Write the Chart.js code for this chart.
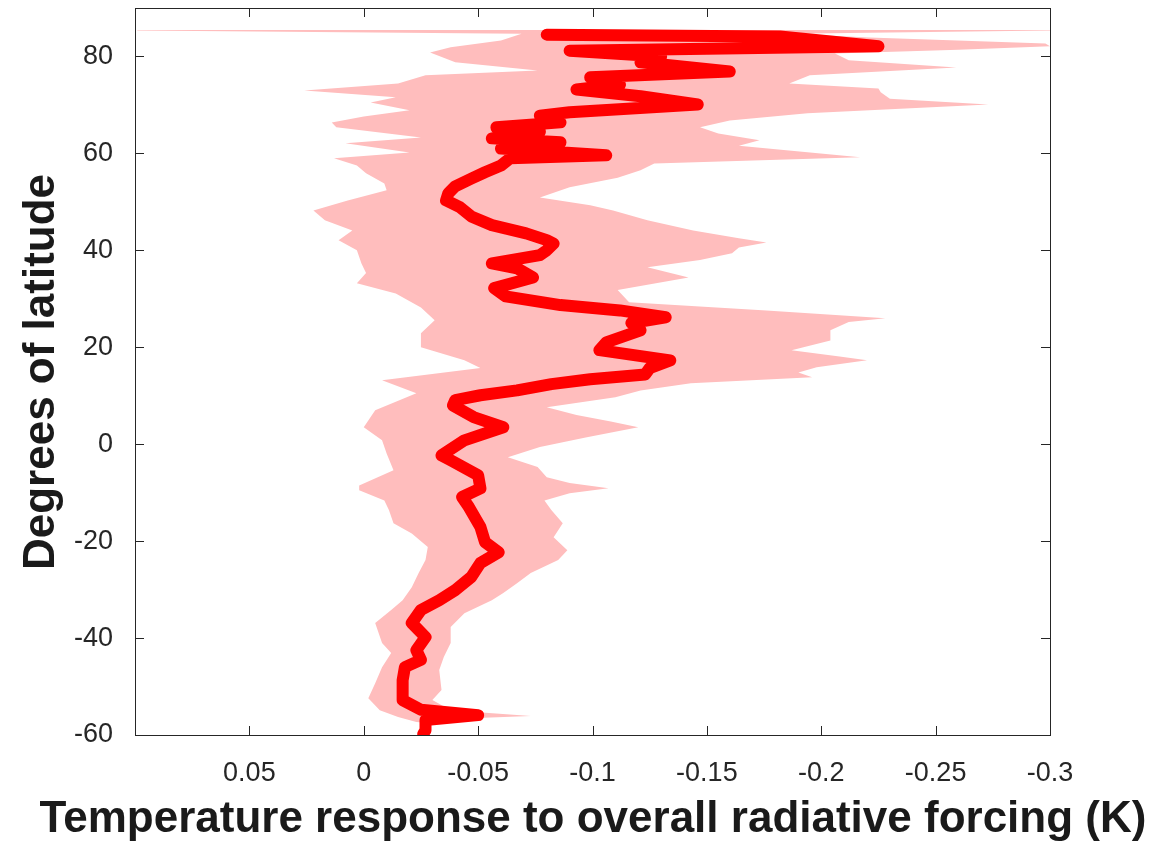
<!DOCTYPE html>
<html>
<head>
<meta charset="utf-8">
<script src="https://cdn.jsdelivr.net/npm/chart.js@4/dist/chart.umd.min.js"></script>
<style>
    html, body { margin: 0; padding: 0; background: #fff; }
    #wrap { width: 1171px; height: 849px; }
</style>
</head>
<body>
<div id="wrap"><canvas id="latChart" width="1171" height="849"></canvas></div>
<script>
// Mean temperature response by latitude (K)
const meanLat = [
    84.5, 84.1, 82.1, 81.2, 80.0, 78.8, 76.9, 75.7, 74.2, 73.2, 71.8, 70.1, 68.5, 67.8,
    66.4, 65.4, 64.5, 63.1, 62.3, 61.0, 59.6, 59.0, 57.5, 56.1, 54.8, 53.2, 51.8, 50.3,
    48.9, 47.0, 45.2, 43.5, 42.1, 41.4, 40.0, 39.0, 37.3, 36.3, 34.4, 32.2, 30.5, 28.7,
    27.6, 26.2, 25.0, 23.5, 21.0, 19.4, 17.3, 15.7, 14.4, 13.4, 12.4, 11.1, 10.1, 9.1,
    8.0, 5.6, 3.5, 0.8, -2.3, -3.3, -6.4, -9.1, -10.9, -13.0, -17.1, -20.2, -22.3, -24.5,
    -27.4, -30.1, -32.2, -34.2, -36.9, -39.8, -42.5, -44.5, -46.0, -48.7, -50.7, -52.8,
    -54.8, -55.9, -56.9, -59.0, -59.8
];
const meanVal = [
    -0.080, -0.182, -0.225, -0.090, -0.130, -0.121, -0.160, -0.099, -0.112, -0.093, -0.121, -0.146, -0.090, -0.077,
    -0.086, -0.058, -0.077, -0.056, -0.086, -0.060, -0.106, -0.064, -0.060, -0.053, -0.047, -0.040, -0.037, -0.036,
    -0.042, -0.047, -0.056, -0.071, -0.080, -0.083, -0.080, -0.077, -0.056, -0.067, -0.074, -0.057, -0.062, -0.086,
    -0.112, -0.132, -0.117, -0.121, -0.106, -0.103, -0.134, -0.125, -0.123, -0.099, -0.082, -0.067, -0.051, -0.040,
    -0.039, -0.048, -0.061, -0.044, -0.034, -0.038, -0.050, -0.051, -0.043, -0.046, -0.051, -0.053, -0.059, -0.051,
    -0.047, -0.040, -0.033, -0.025, -0.021, -0.027, -0.023, -0.025, -0.018, -0.017, -0.017, -0.017,
    -0.025, -0.050, -0.027, -0.027, -0.026
];

// Spread band, warm (left) edge
const bandLeftLat = [
    85.45, 85.35, 84.7, 83.3, 81.9, 80.8, 78.8, 77.1, 76.1, 74.4, 73.0, 71.6, 70.5, 68.9,
    67.6, 66.4, 65.4, 63.3, 62.1, 60.2, 59.0, 57.5, 55.9, 53.8, 52.4, 50.3, 48.2, 46.2,
    44.1, 42.1, 40.0, 37.3, 35.3, 33.2, 31.1, 28.2, 25.6, 22.9, 20.0, 17.3, 15.7, 13.2,
    10.5, 7.0, 3.5, 0.8, -1.9, -5.4, -8.5, -9.5, -11.6, -13.6, -16.3, -18.4, -21.2, -23.9,
    -26.6, -29.5, -32.2, -34.2, -36.9, -41.0, -43.1, -46.0, -49.3, -52.4, -54.9, -56.3, -57.3
];
const bandLeftVal = [
    0.099, 0.099, -0.069, -0.060, -0.038, -0.029, -0.040, -0.076, -0.027, -0.015, 0.026, -0.014, -0.003, -0.020,
    0.000, 0.014, 0.012, -0.025, 0.008, -0.020, 0.013, 0.003, -0.001, -0.009, -0.010, 0.007, 0.022, 0.017,
    0.005, 0.011, 0.003, 0.001, -0.001, 0.003, -0.014, -0.025, -0.031, -0.025, -0.025, -0.044, -0.051, -0.008,
    -0.023, -0.005, 0.000, -0.008, -0.010, -0.013, 0.002, 0.002, -0.009, -0.011, -0.013, -0.021, -0.028, -0.027,
    -0.024, -0.021, -0.017, -0.012, -0.005, -0.008, -0.012, -0.008, -0.005, -0.002, -0.007, -0.015, -0.023
];

// Spread band, cold (right) edge
const bandRightLat = [
    85.45, 85.35, 84.7, 83.9, 82.7, 82.1, 81.4, 80.6, 79.2, 77.7, 76.1, 74.4, 73.4, 72.6,
    71.3, 70.1, 68.3, 66.8, 65.4, 64.1, 62.7, 61.6, 59.2, 57.9, 56.5, 55.0, 53.0, 50.9,
    49.3, 48.2, 46.2, 44.1, 42.5, 41.6, 40.6, 39.4, 38.0, 36.5, 34.4, 31.8, 29.3, 27.6,
    26.0, 25.2, 23.5, 21.4, 19.4, 18.1, 17.3, 15.9, 14.8, 13.8, 12.6, 11.1, 9.7, 7.6,
    6.0, 4.7, 3.5, 1.4, -0.6, -2.7, -4.7, -6.8, -8.0, -9.1, -10.1, -11.6, -13.6, -16.3,
    -19.2, -21.9, -23.9, -26.6, -28.7, -30.7, -32.2, -34.9, -37.7, -41.0, -43.9, -46.6, -50.7,
    -52.8, -54.9, -56.1, -56.7, -57.5
];
const bandRightVal = [
    -0.300, -0.300, -0.186, -0.221, -0.298, -0.300, -0.260, -0.206, -0.212, -0.259, -0.195, -0.186, -0.225, -0.226,
    -0.230, -0.273, -0.194, -0.160, -0.147, -0.155, -0.173, -0.164, -0.217, -0.127, -0.121, -0.111, -0.090, -0.077,
    -0.099, -0.109, -0.124, -0.144, -0.164, -0.176, -0.164, -0.161, -0.147, -0.124, -0.142, -0.111, -0.116, -0.176,
    -0.228, -0.212, -0.204, -0.204, -0.187, -0.208, -0.220, -0.198, -0.190, -0.196, -0.143, -0.121, -0.110, -0.080,
    -0.093, -0.108, -0.120, -0.097, -0.077, -0.063, -0.076, -0.080, -0.090, -0.107, -0.090, -0.079, -0.082, -0.087,
    -0.083, -0.089, -0.085, -0.073, -0.067, -0.061, -0.056, -0.044, -0.038, -0.038, -0.035, -0.033, -0.034,
    -0.030, -0.038, -0.073, -0.038, -0.028
];

// Axis ticks
const xTicks = [0.05, 0, -0.05, -0.1, -0.15, -0.2, -0.25, -0.3];
const yTicks = [-60, -40, -20, 0, 20, 40, 60, 80];

const meanPoints = meanLat.map((lat, i) => ({ x: meanVal[i], y: lat }));
const bandPoints = bandLeftLat.map((lat, i) => ({ x: bandLeftVal[i], y: lat }))
    .concat(bandRightLat.map((lat, i) => ({ x: bandRightVal[i], y: lat })).reverse());

const AXIS_COLOR = '#262626';
const TICK_FONT = '"Liberation Sans", Arial, sans-serif';

// Box round the plot, ticks pointing inward, plus axis titles
const boxPlugin = {
    id: 'matlabBox',
    afterDraw(chart) {
        const ctx = chart.ctx;
        const a = chart.chartArea;
        const xs = chart.scales.x;
        const ys = chart.scales.y;
        const tl = 9;
        ctx.save();
        ctx.strokeStyle = AXIS_COLOR;
        ctx.lineWidth = 1;
        ctx.strokeRect(a.left + 0.5, a.top + 0.5, a.right - a.left, a.bottom - a.top);
        ctx.beginPath();
        xTicks.forEach(v => {
            const px = Math.round(xs.getPixelForValue(v)) + 0.5;
            ctx.moveTo(px, a.bottom); ctx.lineTo(px, a.bottom - tl);
            ctx.moveTo(px, a.top); ctx.lineTo(px, a.top + tl);
        });
        yTicks.forEach(v => {
            const py = Math.round(ys.getPixelForValue(v)) + 0.5;
            ctx.moveTo(a.left, py); ctx.lineTo(a.left + tl, py);
            ctx.moveTo(a.right, py); ctx.lineTo(a.right - tl, py);
        });
        ctx.stroke();

        ctx.fillStyle = '#1a1a1a';
        ctx.font = 'bold 44px ' + TICK_FONT;
        ctx.textAlign = 'center';
        ctx.textBaseline = 'middle';
        ctx.fillText('Temperature response to overall radiative forcing (K)', 593, 820);
        ctx.translate(42, 372);
        ctx.rotate(-Math.PI / 2);
        ctx.fillText('Degrees of latitude', 0, 0);
        ctx.restore();
    }
};

new Chart(document.getElementById('latChart'), {
    type: 'scatter',
    data: {
        datasets: [
            {
                label: 'Mean',
                data: meanPoints,
                showLine: true,
                borderColor: '#ff0000',
                borderWidth: 12,
                borderJoinStyle: 'round',
                borderCapStyle: 'round',
                pointRadius: 0,
                fill: false
            },
            {
                label: 'Spread',
                data: bandPoints,
                showLine: true,
                borderColor: 'rgba(0,0,0,0)',
                borderWidth: 0,
                backgroundColor: '#ffbdbd',
                pointRadius: 0,
                fill: 'shape'
            }
        ]
    },
    options: {
        responsive: false,
        animation: false,
        layout: {
            padding: { left: 0, right: 121, top: 8, bottom: 0 }
        },
        plugins: {
            legend: { display: false },
            tooltip: { enabled: false }
        },
        scales: {
            x: {
                type: 'linear',
                reverse: true,
                min: -0.3,
                max: 0.1,
                grid: { display: false, drawTicks: false },
                border: { display: false },
                afterFit: function(scale) {
                    scale.height = 114;
                    scale.paddingLeft = 0;
                    scale.paddingRight = 0;
                },
                afterBuildTicks: function(scale) {
                    scale.ticks = xTicks.map(v => ({ value: v }));
                },
                ticks: {
                    padding: 22,
                    color: AXIS_COLOR,
                    font: { family: TICK_FONT, size: 27 },
                    maxRotation: 0,
                    autoSkip: false,
                    callback: function(value) {
                        return String(Number(value.toFixed(2)));
                    }
                }
            },
            y: {
                type: 'linear',
                min: -60,
                max: 90,
                grid: { display: false, drawTicks: false },
                border: { display: false },
                afterFit: function(scale) {
                    scale.width = 135;
                    scale.paddingTop = 0;
                    scale.paddingBottom = 0;
                },
                afterBuildTicks: function(scale) {
                    scale.ticks = yTicks.map(v => ({ value: v }));
                },
                ticks: {
                    padding: 22,
                    color: AXIS_COLOR,
                    font: { family: TICK_FONT, size: 27 },
                    autoSkip: false
                }
            }
        }
    },
    plugins: [boxPlugin]
});
</script>
</body>
</html>
